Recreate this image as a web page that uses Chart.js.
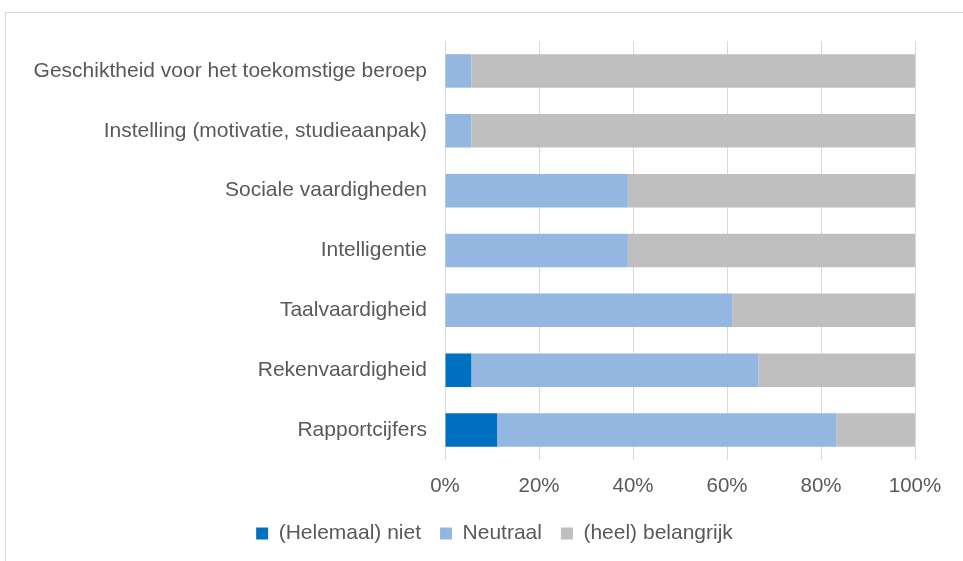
<!DOCTYPE html>
<html>
<head>
<meta charset="utf-8">
<script src="https://cdn.jsdelivr.net/npm/chart.js@4.4.1/dist/chart.umd.min.js"></script>
<style>
  body { margin: 0; background: #fff; }
  #wrap { position: relative; width: 963px; height: 561px; overflow: hidden; }
  #frame { position: absolute; left: 5px; top: 12px; width: 980px; height: 600px; border: 1px solid #d9d9d9; }
  #mygraph { position: absolute; left: 0; top: 0; }
</style>
</head>
<body>
<div id="wrap">
  <div id="frame"></div>
  <canvas id="mygraph" width="963" height="561"></canvas>
</div>
<script>
// Categories, top to bottom
const categories = [
  "Geschiktheid voor het toekomstige beroep",
  "Instelling (motivatie, studieaanpak)",
  "Sociale vaardigheden",
  "Intelligentie",
  "Taalvaardigheid",
  "Rekenvaardigheid",
  "Rapportcijfers"
];

// Share of answers per category (%)
const helemaalNiet = [0, 0, 0, 0, 0, 5.6, 11.1];
const neutraal     = [5.6, 5.6, 38.9, 38.9, 61.1, 61.1, 72.2];
const belangrijk   = [94.4, 94.4, 61.1, 61.1, 38.9, 33.3, 16.7];

const seriesNames = ["(Helemaal) niet", "Neutraal", "(heel) belangrijk"];
const xTicks = [0, 20, 40, 60, 80, 100];

const textColor = "#595959";
const fontFamily = "'Liberation Sans', Arial, sans-serif";

// Move the legend a bit to the right so it sits centred under the frame
const legendShift = {
  id: 'legendShift',
  afterLayout(chart) {
    chart.legend.left += 37;
    chart.legend.right += 37;
  }
};

const graph = document.getElementById("mygraph");

new Chart(graph, {
  type: 'bar',
  data: {
    labels: categories,
    datasets: [
      { label: seriesNames[0], data: helemaalNiet, backgroundColor: '#0070c0' },
      { label: seriesNames[1], data: neutraal, backgroundColor: '#93b7e0' },
      { label: seriesNames[2], data: belangrijk, backgroundColor: '#bfbfbf' }
    ]
  },
  plugins: [legendShift],
  options: {
    indexAxis: 'y',
    responsive: false,
    animation: false,
    datasets: {
      bar: { categoryPercentage: 0.56, barPercentage: 1, borderWidth: 0 }
    },
    layout: { padding: { top: 41, right: 48, left: 0, bottom: 7 } },
    plugins: {
      tooltip: { enabled: false },
      legend: {
        position: 'bottom',
        labels: {
          color: textColor,
          font: { family: fontFamily, size: 21 },
          boxWidth: 12,
          boxHeight: 12,
          padding: 19
        }
      }
    },
    scales: {
      x: {
        stacked: true,
        min: 0,
        max: 100,
        afterBuildTicks: (scale) => { scale.ticks = xTicks.map(v => ({ value: v })); },
        afterFit: (scale) => { scale.height = 44; },
        grid: { color: '#d9d9d9', lineWidth: 1, drawTicks: false },
        border: { display: false },
        ticks: {
          color: textColor,
          font: { family: fontFamily, size: 20.5 },
          padding: 14,
          callback: (v) => v + '%'
        }
      },
      y: {
        stacked: true,
        afterFit: (scale) => { scale.width = 445; },
        grid: { display: false },
        border: { display: false },
        ticks: {
          color: textColor,
          font: { family: fontFamily, size: 21 },
          padding: 10
        }
      }
    }
  }
});
</script>
</body>
</html>
